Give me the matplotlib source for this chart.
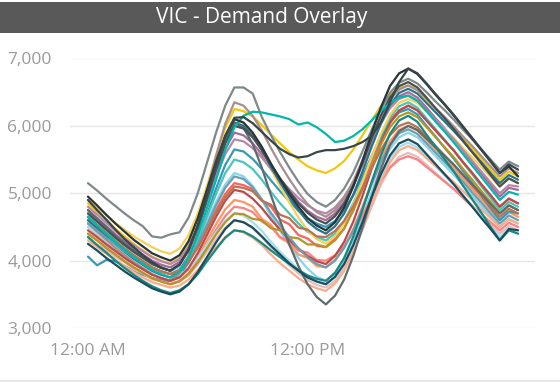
import matplotlib
matplotlib.use("Agg")
import matplotlib.pyplot as plt
from matplotlib.patches import Rectangle
import numpy as np

title = "VIC - Demand Overlay"
hours = np.arange(48) * 0.5  # half-hourly intervals, 0:00 .. 23:30
x_tick_pos = [0, 12]
x_tick_labels = ["12:00 AM", "12:00 PM"]
y_ticks = [3000, 4000, 5000, 6000, 7000]

d01 = [4650, 4520, 4400, 4270, 4160, 4050, 3950, 3860, 3800, 3750,
       3830, 4040, 4380, 4780, 5200, 5640, 5980,
       6150, 6210, 6200, 6170, 6140, 6100, 6020, 6050, 5980, 5880,
       5760, 5780, 5850, 5950, 6080, 6220, 6340, 6420, 6450,
       6370, 6220, 6060, 5910, 5750, 5580, 5410, 5240, 5070, 4900, 5020, 4980]
d02 = [4900, 4750, 4610, 4460, 4320, 4200, 4080, 3980, 3900, 3850,
       3940, 4170, 4530, 4990, 5440, 5850, 6120,
       6130, 6040, 5910, 5780, 5660, 5580, 5530, 5550, 5610, 5640,
       5640, 5660, 5700, 5760, 5850, 6050, 6350, 6650, 6850,
       6780, 6630, 6470, 6320, 6160, 5990, 5820, 5650, 5480, 5300, 5430, 5350]
d03 = [4600, 4490, 4380, 4260, 4160, 4060, 3980, 3900, 3840, 3800,
       3850, 3990, 4200, 4480, 4750, 4990, 5150,
       5120, 5060, 4890, 4800, 4610, 4540, 4380, 4330, 4220, 4200,
       4330, 4470, 4790, 5080, 5480, 5780, 6090, 6220, 6300,
       6230, 6080, 5930, 5780, 5630, 5460, 5300, 5130, 4970, 4800, 4920, 4850]
d04 = [4850, 4720, 4600, 4470, 4360, 4250, 4150, 4060, 4000, 3950,
       4040, 4270, 4640, 5100, 5560, 5970, 6250,
       6220, 6140, 6010, 5870, 5740, 5610, 5500, 5400, 5340, 5300,
       5370, 5480, 5650, 5860, 6080, 6290, 6460, 6560, 6600,
       6530, 6390, 6250, 6110, 5970, 5820, 5660, 5510, 5350, 5200, 5320, 5250]
d05 = [4750, 4620, 4500, 4370, 4260, 4150, 4050, 3960, 3900, 3850,
       3940, 4160, 4510, 4950, 5390, 5790, 6050,
       5970, 5730, 5380, 4970, 4590, 4240, 3920, 3650, 3460, 3350,
       3480, 3720, 4070, 4490, 4940, 5360, 5710, 5920, 6000,
       5940, 5810, 5680, 5550, 5420, 5270, 5130, 4990, 4840, 4700, 4820, 4750]
d06 = [4700, 4580, 4460, 4340, 4230, 4130, 4040, 3950, 3890, 3850,
       3910, 4050, 4290, 4580, 4870, 5130, 5300,
       5250, 5110, 4900, 4660, 4440, 4230, 4040, 3880, 3760, 3700,
       3810, 4010, 4290, 4650, 5020, 5370, 5660, 5830, 5900,
       5830, 5690, 5550, 5410, 5270, 5120, 4960, 4810, 4650, 4500, 4620, 4550]
d07 = [4500, 4390, 4280, 4160, 4060, 3960, 3880, 3800, 3740, 3700,
       3750, 3870, 4060, 4300, 4540, 4760, 4900,
       4870, 4800, 4620, 4530, 4340, 4260, 4090, 4040, 3920, 3900,
       4010, 4190, 4470, 4800, 5160, 5500, 5770, 5940, 6000,
       5930, 5790, 5650, 5510, 5370, 5220, 5060, 4910, 4750, 4600, 4720, 4650]
d08 = [4750, 4630, 4510, 4390, 4280, 4180, 4090, 4000, 3940, 3900,
       3980, 4180, 4500, 4900, 5300, 5660, 5900,
       5860, 5740, 5580, 5380, 5200, 5030, 4870, 4740, 4650, 4600,
       4700, 4870, 5110, 5420, 5740, 6040, 6290, 6440, 6500,
       6420, 6270, 6110, 5960, 5800, 5630, 5460, 5290, 5120, 4950, 5080, 5050]
d09 = [4060, 3930, 4010, 3990, 3920, 3850, 3790, 3740, 3710, 3700,
       3780, 3970, 4290, 4680, 5070, 5420, 5650,
       5620, 5510, 5360, 5190, 5030, 4880, 4740, 4630, 4550, 4500,
       4590, 4750, 4970, 5250, 5550, 5830, 6060, 6200, 6250,
       6170, 6000, 5840, 5670, 5510, 5330, 5150, 4960, 4780, 4600, 4730, 4700]
d10 = [4350, 4240, 4160, 4050, 3980, 3870, 3810, 3720, 3700, 3650,
       3690, 3780, 3940, 4130, 4320, 4490, 4600,
       4570, 4480, 4350, 4200, 4060, 3930, 3810, 3710, 3640, 3600,
       3700, 3880, 4140, 4460, 4800, 5120, 5380, 5540, 5600,
       5540, 5420, 5300, 5180, 5060, 4930, 4800, 4660, 4530, 4400, 4510, 4450]
d11 = [4650, 4530, 4410, 4290, 4180, 4080, 3990, 3900, 3840, 3800,
       3870, 4040, 4310, 4650, 4990, 5300, 5500,
       5460, 5360, 5200, 5020, 4850, 4700, 4550, 4430, 4350, 4300,
       4400, 4590, 4850, 5180, 5530, 5860, 6120, 6290, 6350,
       6270, 6110, 5950, 5790, 5630, 5450, 5280, 5100, 4930, 4750, 4870, 4800]
d12 = [4400, 4300, 4190, 4090, 3990, 3900, 3820, 3740, 3690, 3650,
       3700, 3810, 4000, 4230, 4460, 4660, 4800,
       4780, 4720, 4580, 4500, 4350, 4290, 4150, 4120, 4010, 4000,
       4080, 4220, 4420, 4670, 4930, 5180, 5380, 5500, 5550,
       5500, 5390, 5280, 5170, 5060, 4930, 4810, 4690, 4570, 4450, 4560, 4500]
d13 = [4900, 4790, 4680, 4560, 4460, 4360, 4280, 4200, 4140, 4100,
       4180, 4380, 4700, 5100, 5500, 5860, 6100,
       6040, 5880, 5640, 5360, 5100, 4860, 4640, 4450, 4320, 4250,
       4360, 4550, 4830, 5170, 5540, 5880, 6160, 6340, 6400,
       6340, 6210, 6080, 5950, 5820, 5670, 5530, 5390, 5240, 5100, 5220, 5150]
d14 = [5150, 5040, 4920, 4810, 4700, 4600, 4510, 4360, 4340, 4390,
       4420, 4640, 5000, 5450, 5900, 6300, 6570,
       6570, 6480, 6130, 5860, 5610, 5380, 5170, 4990, 4870, 4800,
       4900, 5070, 5310, 5620, 5940, 6240, 6490, 6640, 6700,
       6630, 6500, 6360, 6230, 6090, 5940, 5800, 5650, 5500, 5350, 5470, 5400]
d15 = [4500, 4400, 4290, 4190, 4090, 4000, 3920, 3840, 3790, 3750,
       3790, 3880, 4040, 4230, 4420, 4590, 4700,
       4670, 4570, 4440, 4280, 4130, 4000, 3870, 3770, 3690, 3650,
       3760, 3940, 4220, 4550, 4910, 5250, 5520, 5690, 5750,
       5680, 5540, 5400, 5260, 5120, 4970, 4810, 4660, 4500, 4350, 4470, 4400]
d16 = [4300, 4200, 4100, 4010, 3920, 3830, 3750, 3680, 3640, 3600,
       3630, 3720, 3860, 4030, 4200, 4350, 4450,
       4420, 4340, 4230, 4090, 3960, 3850, 3740, 3650, 3590, 3550,
       3660, 3850, 4130, 4470, 4840, 5180, 5460, 5640, 5700,
       5640, 5520, 5400, 5280, 5160, 5030, 4900, 4760, 4630, 4500, 4610, 4550]
d17 = [4800, 4680, 4560, 4440, 4330, 4230, 4140, 4050, 3990, 3950,
       4020, 4210, 4510, 4880, 5250, 5580, 5800,
       5770, 5670, 5530, 5360, 5210, 5060, 4930, 4820, 4740, 4700,
       4790, 4950, 5170, 5450, 5750, 6030, 6260, 6400, 6450,
       6380, 6230, 6090, 5940, 5800, 5640, 5480, 5320, 5160, 5000, 5120, 5100]
d18 = [4600, 4480, 4360, 4240, 4130, 4030, 3940, 3850, 3790, 3750,
       3840, 4070, 4440, 4900, 5360, 5770, 6050,
       6000, 5850, 5640, 5390, 5160, 4940, 4750, 4580, 4470, 4400,
       4510, 4700, 4980, 5320, 5690, 6030, 6310, 6490, 6550,
       6480, 6340, 6200, 6060, 5920, 5770, 5610, 5460, 5300, 5150, 5270, 5200]
d19 = [4550, 4430, 4310, 4190, 4080, 3980, 3890, 3800, 3740, 3700,
       3810, 4070, 4500, 5030, 5560, 6030, 6350,
       6300, 6150, 5930, 5670, 5430, 5210, 5010, 4840, 4720, 4650,
       4750, 4920, 5180, 5490, 5820, 6130, 6390, 6540, 6600,
       6530, 6400, 6260, 6130, 5990, 5840, 5700, 5550, 5400, 5250, 5370, 5300]
d20 = [4350, 4230, 4120, 4000, 3890, 3790, 3700, 3620, 3560, 3520,
       3560, 3650, 3800, 3990, 4170, 4340, 4450,
       4430, 4360, 4260, 4150, 4050, 3950, 3860, 3780, 3730, 3700,
       3820, 4040, 4360, 4750, 5170, 5560, 5880, 6080, 6150,
       6060, 5870, 5690, 5500, 5320, 5110, 4910, 4710, 4500, 4300, 4450, 4400]
d21 = [4950, 4820, 4680, 4550, 4430, 4310, 4210, 4110, 4050, 4000,
       4080, 4290, 4630, 5050, 5470, 5850, 6100,
       6050, 5900, 5690, 5440, 5210, 4990, 4800, 4630, 4520, 4450,
       4570, 4790, 5100, 5480, 5890, 6270, 6590, 6780, 6850,
       6770, 6620, 6460, 6310, 6150, 5980, 5810, 5640, 5470, 5300, 5400, 5250]
d22 = [4450, 4350, 4240, 4140, 4040, 3950, 3870, 3790, 3740, 3700,
       3750, 3890, 4110, 4380, 4650, 4890, 5050,
       5020, 4920, 4780, 4610, 4460, 4310, 4180, 4070, 3990, 3950,
       4070, 4280, 4580, 4960, 5360, 5740, 6040, 6230, 6300,
       6230, 6080, 5930, 5780, 5630, 5460, 5300, 5130, 4970, 4800, 4920, 4850]
d23 = [4400, 4300, 4190, 4090, 3990, 3900, 3820, 3740, 3690, 3650,
       3690, 3800, 3970, 4180, 4390, 4570, 4700,
       4690, 4620, 4600, 4480, 4450, 4350, 4330, 4240, 4240, 4200,
       4300, 4480, 4740, 5060, 5400, 5720, 5980, 6140, 6200,
       6130, 5980, 5830, 5680, 5530, 5360, 5200, 5030, 4870, 4700, 4820, 4750]
d24 = [4700, 4580, 4460, 4340, 4230, 4130, 4040, 3950, 3890, 3850,
       3940, 4150, 4500, 4930, 5360, 5740, 6000,
       5960, 5830, 5640, 5420, 5220, 5030, 4850, 4710, 4610, 4550,
       4660, 4840, 5120, 5450, 5810, 6150, 6420, 6590, 6650,
       6570, 6420, 6260, 6110, 5950, 5780, 5610, 5440, 5270, 5100, 5220, 5150]
d25 = [4550, 4450, 4340, 4240, 4140, 4050, 3970, 3890, 3840, 3800,
       3860, 4000, 4240, 4530, 4820, 5080, 5250,
       5210, 5090, 4910, 4710, 4520, 4350, 4180, 4050, 3950, 3900,
       4000, 4190, 4450, 4780, 5130, 5460, 5720, 5890, 5950,
       5880, 5740, 5600, 5460, 5320, 5170, 5010, 4860, 4700, 4550, 4670, 4600]
d26 = [4650, 4530, 4410, 4290, 4180, 4080, 3990, 3900, 3840, 3800,
       3850, 3980, 4190, 4450, 4710, 4940, 5100,
       5080, 5030, 4890, 4830, 4680, 4630, 4490, 4460, 4360, 4350,
       4440, 4590, 4810, 5080, 5370, 5640, 5860, 6000, 6050,
       5980, 5840, 5700, 5560, 5420, 5270, 5110, 4960, 4800, 4650, 4770, 4700]
d27 = [4250, 4150, 4040, 3940, 3840, 3750, 3670, 3590, 3540, 3500,
       3540, 3650, 3830, 4050, 4270, 4470, 4600,
       4570, 4490, 4360, 4220, 4090, 3960, 3850, 3750, 3690, 3650,
       3760, 3950, 4230, 4570, 4940, 5280, 5560, 5740, 5800,
       5730, 5580, 5430, 5280, 5130, 4960, 4800, 4630, 4470, 4300, 4470, 4450]

series = [d03, d04, d06, d07, d08, d09, d10, d11, d12, d13, d15, d16, d17,
          d18, d19, d22, d23, d25, d26, d05, d14, d20, d24, d27, d01, d21, d02]
colors = ["#FD625E", "#F2C80F", "#8AD4EB", "#FE9666", "#A66999", "#3599B8",
          "#DFBFBF", "#4AC5BB", "#FB8281", "#F4D25A", "#A4DDEE", "#FDAB89",
          "#B687AC", "#28738A", "#A78F8F", "#BB4A4A", "#B59525", "#6A9FB0",
          "#BD7150", "#5F6B6D", "#7F898A", "#168980", "#475052", "#1B4D5C",
          "#01B8AA", "#293537", "#374649"]

W, H = 560, 382
fig = plt.figure(figsize=(W / 100, H / 100), dpi=100)
fig.patch.set_facecolor("white")

# title bar
fig.patches.append(Rectangle((0, (H - 33) / H), 1, 31 / H, transform=fig.transFigure,
                             facecolor="#595959", edgecolor="none", zorder=0))
fig.text(262 / W, (H - 17.5) / H, title, ha="center", va="center", color="white",
         fontsize=15, family="Open Sans")
# bottom light border
fig.patches.append(Rectangle((0, 0), 1, 2 / H, transform=fig.transFigure,
                             facecolor="#e6e6e6", edgecolor="none", zorder=0))

ax = fig.add_axes([70 / W, (H - 328) / H, 465 / W, (328 - 58.5) / H])
for s, c in zip(series, colors):
    ax.plot(hours, s, color=c, lw=1.6, solid_joinstyle="round", solid_capstyle="round")

px_per_h = 220 / 12
ax.set_xlim(0 - 18 / px_per_h, 23.5 + 17 / px_per_h)
ax.set_ylim(3000, 7000)
ax.set_yticks(y_ticks)
ax.set_yticklabels([f"{v:,}" for v in y_ticks])
ax.set_xticks(x_tick_pos)
ax.set_xticklabels(x_tick_labels)
ax.tick_params(length=0, labelsize=12.5, labelcolor="#9a9a9a")
ax.tick_params(axis="y", pad=13)
ax.tick_params(axis="x", pad=11)
for lab in ax.get_xticklabels() + ax.get_yticklabels():
    lab.set_family("Open Sans")
ax.grid(axis="y", color="#e6e6e6", lw=1)
ax.set_axisbelow(True)
for sp in ax.spines.values():
    sp.set_visible(False)

fig.savefig("out.png", dpi=100)
